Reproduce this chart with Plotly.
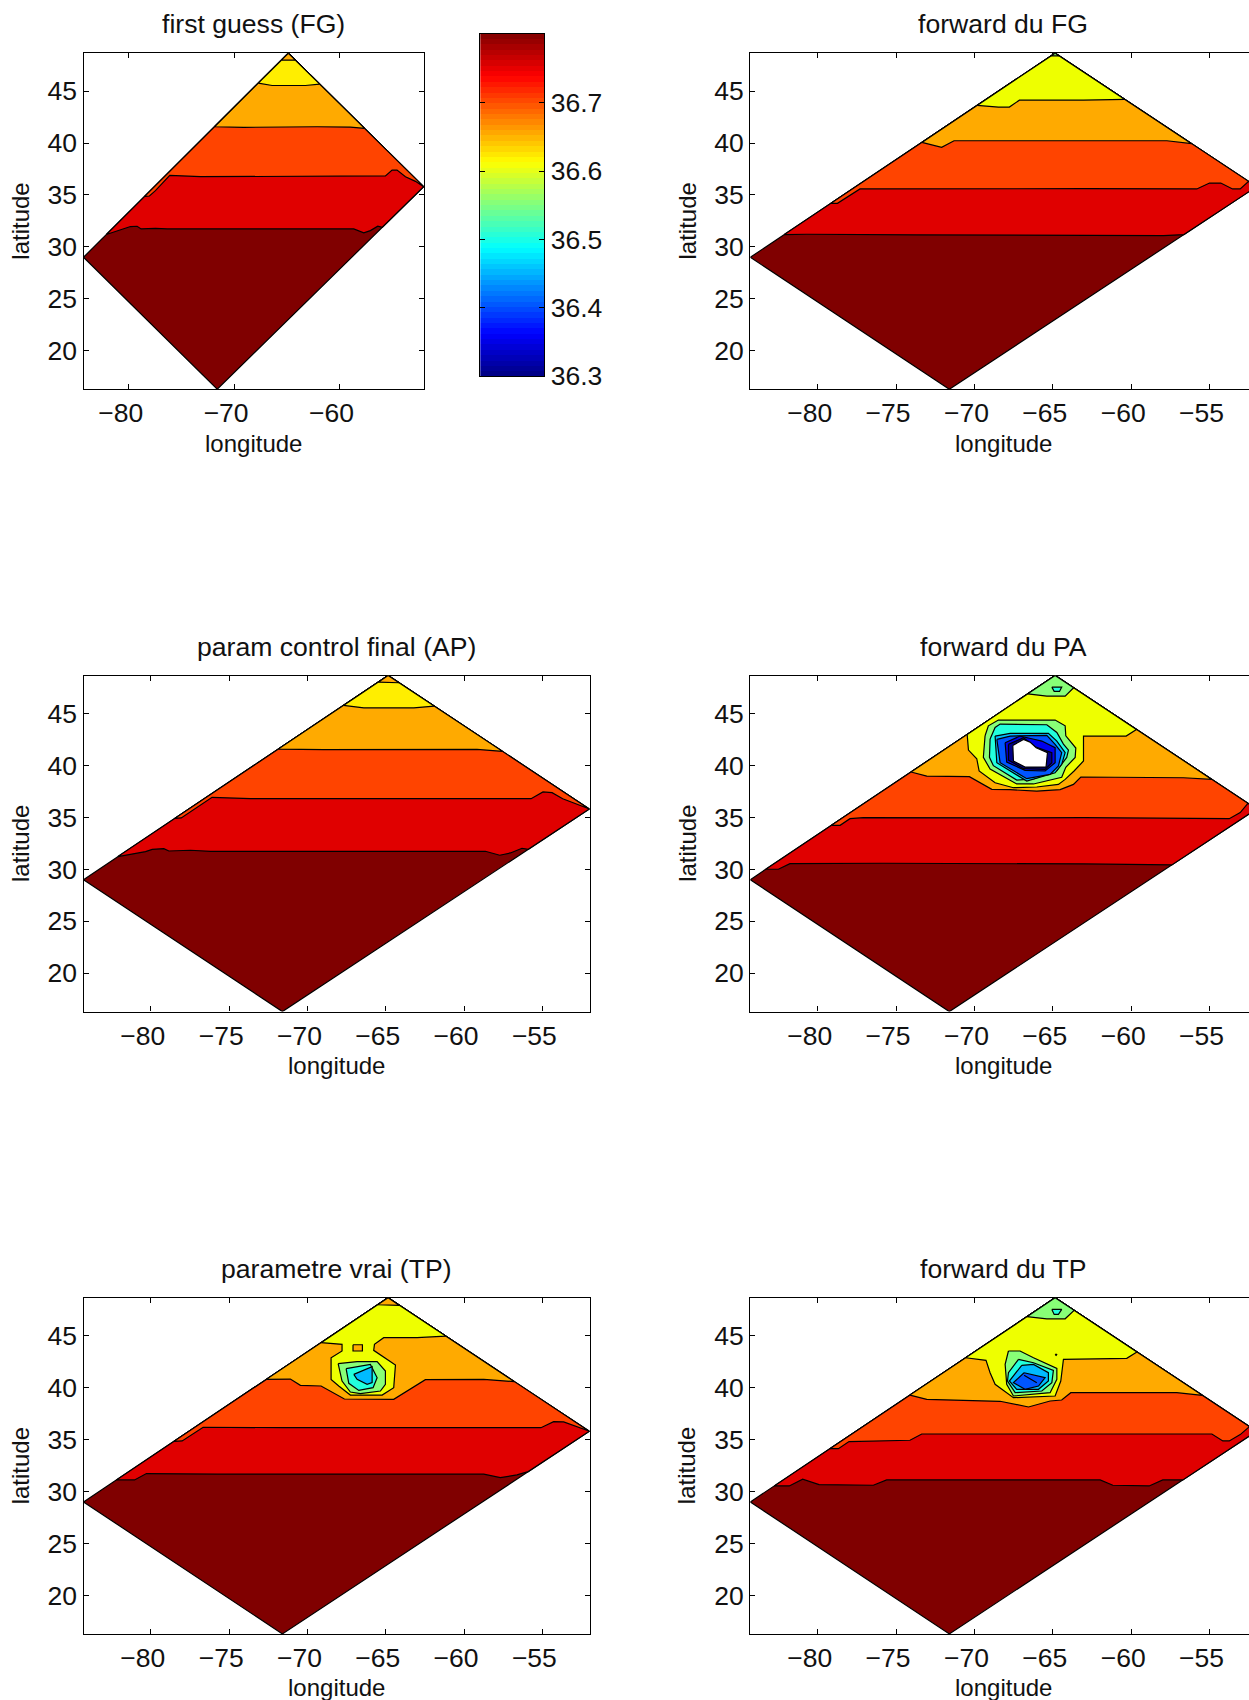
import numpy as np
import plotly.graph_objects as go

W, H = 1249, 1700

# ---- bounds of the model domain (rotated rectangle) ----
CORNER_LON = [-84.3, -71.6, -52.0, -64.85]
CORNER_LAT = [29.0, 16.3, 35.8, 48.65]

# ---- contour level colours ----
C_RED = "#e00000"; C_ORED = "#ff4400"; C_ORANGE = "#ffaa00"
C_YEL = "#eeff00"; C_YEL2 = "#ffee00"; C_GREEN = "#88ff77"; C_CYAN = "#22ffdd"
C_SKY = "#00bbff"; C_BLUE = "#0055ff"; C_BLUE2 = "#0000ee"; C_NAVY = "#000088"
C_BASE = "#800000"

# ---- first guess (FG) ----
FG1_LON = [-82.06, -81.42, -80.16, -79.84, -79.21, -78.83, -77.47, -76.36, -68.45, -58.64, -57.69, -57.06, -56.36, -55.79]
FG1_LAT = [31.19, 31.41, 31.79, 31.96, 31.99, 31.73, 31.79, 31.73, 31.73, 31.73, 31.35, 31.57, 31.99, 31.89]
FG2_LON = [-78.42, -78.04, -77.47, -76.11, -73.2, -65.29, -57.37, -55.63, -55.0, -54.53, -53.73, -52.78, -51.99]
FG2_LAT = [34.87, 34.90, 35.42, 36.89, 36.76, 36.76, 36.79, 36.83, 37.40, 37.40, 36.76, 36.31, 35.8]
FG3_LON = [-71.86, -69.08, -62.12, -58.96, -57.61]
FG3_LAT = [41.57, 41.51, 41.57, 41.54, 41.41]
FG4_LON = [-67.5, -66.39, -63.23, -61.87]
FG4_LAT = [45.77, 45.54, 45.54, 45.67]
FG5_LON = [-65.5, -64.2]
FG5_LAT = [47.98, 47.98]

# ---- forward du FG ----
FF1_LON = [-82.09, -80.70, -73.68, -63.04, -57.94, -56.55]
FF1_LAT = [31.19, 31.22, 31.15, 31.15, 31.09, 31.19]
FF2_LON = [-79.11, -78.74, -77.30, -71.55, -63.04, -55.81, -55.0, -54.28, -53.53, -53.04, -52.47]
FF2_LAT = [34.2, 34.2, 35.58, 35.61, 35.61, 35.58, 36.15, 36.15, 35.58, 35.58, 36.31]
FF3_LON = [-73.26, -72.09, -71.30, -65.17, -57.72, -56.13]
FF3_LAT = [40.06, 39.58, 40.22, 40.19, 40.22, 39.94]
FF4_LON = [-69.64, -68.47, -67.77, -67.13, -63.04, -60.38]
FF4_LAT = [43.62, 43.46, 43.46, 44.13, 44.13, 44.2]
FF5_LON = [-65.1, -64.6]
FF5_LAT = [48.4, 48.4]

# ---- param control final (AP) ----
AP1_LON = [-82.21, -80.34, -79.91, -79.17, -78.85, -77.47, -76.19, -67.26, -58.64, -57.72, -57.04, -56.30, -55.87]
AP1_LAT = [31.22, 31.70, 31.92, 31.99, 31.76, 31.83, 31.73, 31.73, 31.73, 31.35, 31.57, 32.02, 31.92]
AP2_LON = [-78.36, -78.06, -76.09, -73.64, -63.0, -55.72, -54.96, -54.38, -53.7, -52.89, -51.98]
AP2_LAT = [34.9, 34.94, 36.92, 36.79, 36.79, 36.79, 37.44, 37.37, 36.79, 36.31, 35.83]
AP3_LON = [-71.79, -68.96, -59.17, -57.57]
AP3_LAT = [41.57, 41.51, 41.54, 41.35]
AP4_LON = [-67.57, -66.40, -63.21, -61.83]
AP4_LAT = [45.77, 45.54, 45.54, 45.71]
AP5_LON = [-65.5, -64.3]
AP5_LAT = [48.01, 47.95]

# ---- forward du PA ----
PA1_LON = [-83.36, -82.51, -81.77, -75.81, -63.04, -57.34]
PA1_LAT = [30.0, 30.0, 30.54, 30.58, 30.51, 30.42]
PA2_LON = [-79.11, -78.57, -77.94, -77.09, -67.3, -63.04, -53.74, -53.04, -52.47]
PA2_LAT = [34.23, 34.23, 34.87, 34.97, 34.94, 34.97, 34.87, 35.45, 36.35]
PA3_LON = [-73.89, -73.04, -70.32, -68.89, -67.72, -66.02, -64.53, -63.68, -63.21, -56.66, -54.85]
PA3_LAT = [39.36, 38.97, 38.91, 37.69, 37.66, 37.53, 37.66, 38.17, 38.88, 38.81, 38.65]
PA4_LON = [-70.38, -70.38, -69.85, -69.70, -68.68, -67.51, -66.02, -64.64, -64.21, -63.64, -63.04, -63.04, -60.32, -59.68]
PA4_LAT = [42.98, 41.47, 40.64, 39.46, 38.33, 37.85, 37.92, 38.17, 38.65, 39.46, 40.42, 42.82, 42.82, 43.46]
PA_TOP_LON = [-66.45, -65.38, -64.21, -63.79]
PA_TOP_LAT = [46.89, 46.67, 46.67, 47.47]
PA_TIP_LON = [-65.06, -64.43, -64.57, -64.91]
PA_TIP_LAT = [47.53, 47.53, 47.12, 47.12]
PA_G_LON = [-69.32, -69.11, -68.47, -64.85, -64.21, -64.17, -63.53, -63.57, -64.17, -64.43, -66.23, -67.30, -69.0, -69.43]
PA_G_LAT = [42.85, 43.81, 44.36, 44.36, 43.81, 42.85, 41.67, 40.77, 39.81, 38.85, 38.21, 38.21, 39.65, 40.77]
PA_C_LON = [-69.0, -68.68, -68.36, -65.38, -64.74, -64.32, -64.0, -64.11, -64.74, -66.23, -67.30, -68.79, -69.04]
PA_C_LAT = [42.53, 43.65, 43.97, 43.91, 43.17, 42.05, 41.47, 40.77, 39.49, 38.69, 38.59, 39.97, 40.77]
PA_S_LON = [-68.68, -67.72, -65.28, -64.74, -64.21, -64.43, -64.85, -66.66, -68.57]
PA_S_LAT = [42.82, 43.08, 43.08, 42.34, 41.22, 40.10, 39.29, 38.49, 40.26]
PA_B_LON = [-68.57, -67.72, -65.38, -64.85, -64.43, -64.64, -65.17, -66.66, -68.36]
PA_B_LAT = [42.5, 42.82, 42.88, 42.02, 41.22, 39.94, 39.13, 38.72, 40.26]
PA_B2_LON = [-68.04, -67.09, -66.34, -65.70, -64.85, -64.85, -65.49, -66.77, -67.94]
PA_B2_LAT = [42.18, 42.82, 42.56, 42.34, 41.70, 40.26, 39.46, 39.52, 40.32]
PA_N_LON = [-67.83, -66.87, -66.13, -65.28, -65.06, -65.06, -65.49, -66.87, -67.83]
PA_N_LAT = [42.02, 42.66, 41.79, 41.38, 41.22, 40.26, 39.62, 39.68, 40.51]
PA_HOLE_LON = [-67.55, -66.87, -66.45, -66.06, -65.34, -65.43, -66.77, -67.51]
PA_HOLE_LAT = [41.92, 42.5, 42.24, 41.70, 41.22, 39.84, 39.84, 40.42]

# ---- parametre vrai (TP) ----
TP1_LON = [-82.21, -81.04, -80.28, -75.77, -58.74, -57.68, -56.62, -55.77]
TP1_LAT = [31.12, 31.12, 31.73, 31.67, 31.67, 31.35, 31.6, 31.92]
TP2_LON = [-78.36, -78.0, -76.66, -71.51, -55.09, -54.28, -53.64, -52.79, -51.98]
TP2_LAT = [34.84, 34.87, 36.19, 36.15, 36.15, 36.73, 36.70, 36.28, 35.83]
TP3_LON = [-72.51, -71.09, -70.45, -69.13, -67.64, -64.49, -62.47, -58.74, -56.79]
TP3_LAT = [40.8, 40.83, 40.22, 40.16, 38.91, 38.88, 40.77, 40.8, 40.58]
TP4_LON = [-68.96, -67.79, -67.79, -68.49, -68.49, -68.0, -67.26, -65.23, -64.49, -64.38, -65.77, -65.72, -65.13, -63.0, -61.09]
TP4_LAT = [44.33, 44.17, 43.53, 42.88, 40.80, 40.16, 39.29, 39.29, 40.0, 42.18, 43.59, 44.17, 44.81, 44.81, 44.97]
TP5_LON = [-65.5, -64.4]
TP5_LAT = [47.98, 47.92]
TP_BOX_LON = [-67.09, -66.49, -66.49, -67.09]
TP_BOX_LAT = [44.13, 44.13, 43.53, 43.53]
TP_G_LON = [-68.04, -66.83, -65.55, -65.02, -65.02, -65.34, -66.62, -67.26, -67.79]
TP_G_LAT = [42.31, 42.5, 42.5, 41.6, 40.32, 39.68, 39.42, 39.58, 40.64]
TP_C_LON = [-67.53, -65.98, -65.55, -65.81, -66.72, -67.36]
TP_C_LAT = [41.83, 42.24, 40.96, 40.0, 39.74, 40.42]
TP_S_LON = [-67.04, -65.87, -65.87, -66.19, -66.83]
TP_S_LAT = [41.28, 42.02, 40.48, 40.32, 40.8]

# ---- forward du TP ----
FT1_LON = [-82.66, -81.81, -80.96, -79.91, -76.45, -75.6, -61.98, -61.17, -58.85, -57.98, -56.6]
FT1_LAT = [30.54, 30.54, 31.19, 30.67, 30.61, 31.12, 31.12, 30.61, 30.54, 31.12, 31.12]
FT2_LON = [-79.11, -78.68, -78.0, -74.11, -73.36, -63.04, -54.85, -54.15, -53.74, -53.04, -52.47]
FT2_LAT = [34.13, 34.13, 34.81, 34.94, 35.54, 35.54, 35.54, 34.87, 34.87, 35.48, 36.25]
FT3_LON = [-73.96, -73.04, -68.36, -66.55, -65.17, -64.43, -63.85, -57.09, -55.49]
FT3_LAT = [39.29, 38.88, 38.69, 38.14, 38.72, 38.81, 39.52, 39.52, 39.26]
FT4_LON = [-70.38, -69.26, -69.0, -68.68, -67.51, -64.85, -64.49, -64.32, -60.28, -59.64]
FT4_LAT = [42.88, 42.63, 41.44, 40.32, 39.04, 39.2, 40.64, 42.72, 42.82, 43.43]
FT_TOP_LON = [-66.49, -65.38, -64.21, -63.79]
FT_TOP_LAT = [46.83, 46.63, 46.63, 47.44]
FT_TIP_LON = [-65.06, -64.43, -64.64, -64.91]
FT_TIP_LAT = [47.53, 47.53, 47.05, 47.05]
FT_G_LON = [-67.83, -67.09, -66.23, -64.74, -64.74, -65.17, -67.51, -67.94, -68.04]
FT_G_LAT = [43.53, 43.53, 42.88, 41.86, 40.80, 39.52, 39.2, 40.32, 42.24]
FT_C_LON = [-67.19, -66.23, -64.96, -65.06, -65.7, -67.4, -67.89, -67.83]
FT_C_LAT = [42.72, 42.4, 41.67, 40.48, 39.68, 39.52, 40.64, 41.44]
FT_S_LON = [-66.98, -66.23, -65.28, -65.28, -65.91, -67.3, -67.77]
FT_S_LAT = [42.15, 42.24, 41.44, 40.64, 39.84, 39.84, 40.64]
FT_B_LON = [-66.83, -65.49, -65.91, -66.77, -67.51]
FT_B_LAT = [41.44, 40.96, 40.16, 39.84, 40.48]
FT_STICK_LON = [-66.83, -66.02]
FT_STICK_LAT = [41.19, 40.48]
FT_DOT_LON = [-64.85, -64.73, -64.79]
FT_DOT_LAT = [43.2, 43.2, 43.1]

# ---- labels ----
TITLES = ["first guess (FG)", "forward du FG", "param control final (AP)",
          "forward du PA", "parametre vrai (TP)", "forward du TP"]
LAT_TICKS = [20, 25, 30, 35, 40, 45]
CB_TICKS = [36.3, 36.4, 36.5, 36.6, 36.7]
CB_MIN, CB_MAX = 36.3, 36.801
JET = [[0, "#000080"], [0.125, "#0000ff"], [0.375, "#00ffff"],
       [0.625, "#ffff00"], [0.875, "#ff0000"], [1, "#800000"]]

FONT = "Liberation Sans"
TEXT = "#111111"
LON_MIN, LON_MAX = -84.3, -51.97
LON_MAX_CUT = -52.48   # the right-hand column runs off the page edge in the original
LAT_MIN, LAT_MAX = 16.3, 48.65

# panel boxes in the page: left, right, top, bottom
PANELS = [(83.5, 424.0, 53.2, 389.2), (750.3, 1249, 53.2, 389.2),
          (83.5, 589.8, 675.5, 1011.6), (750.3, 1249, 675.5, 1011.6),
          (83.5, 589.8, 1297.8, 1633.9), (750.3, 1249, 1297.8, 1633.9)]
CB_BOX = (480.3, 544.3, 33.6, 376.2)
CENTERS = [253.7, 1003.4, 336.6, 1003.4, 336.6, 1003.4]


def fy(py):
    return 1 - py / H


def left_edge_lon(lat):
    return CORNER_LON[0] + (lat - CORNER_LAT[0]) * (CORNER_LON[3] - CORNER_LON[0]) / (CORNER_LAT[3] - CORNER_LAT[0])


def right_edge_lon(lat):
    if lat >= CORNER_LAT[2]:
        return CORNER_LON[2] + (lat - CORNER_LAT[2]) * (CORNER_LON[3] - CORNER_LON[2]) / (CORNER_LAT[3] - CORNER_LAT[2])
    return CORNER_LON[1] + (lat - CORNER_LAT[1]) * (CORNER_LON[2] - CORNER_LON[1]) / (CORNER_LAT[2] - CORNER_LAT[1])


def band(lon, lat):
    """Area above an isoline that runs from the left edge to the right edge."""
    xs = [left_edge_lon(lat[0])] + list(lon[1:-1]) + [right_edge_lon(lat[-1])]
    ys = list(lat)
    if ys[-1] < CORNER_LAT[2]:
        xs.append(CORNER_LON[2]); ys.append(CORNER_LAT[2])
    xs.append(CORNER_LON[3]); ys.append(CORNER_LAT[3])
    return xs + xs[:1], ys + ys[:1]


def closed(lon, lat):
    return list(lon) + [lon[0]], list(lat) + [lat[0]]


def apex_patch(lon, lat):
    """Patch in the top corner, bounded by an open isoline."""
    xs = [left_edge_lon(lat[0])] + list(lon[1:-1]) + [right_edge_lon(lat[-1])] + [CORNER_LON[3]]
    ys = list(lat) + [CORNER_LAT[3]]
    return xs + xs[:1], ys + ys[:1]


base = closed(CORNER_LON, CORNER_LAT)
CONTENT = [
    [(base, C_BASE), (band(FG1_LON, FG1_LAT), C_RED), (band(FG2_LON, FG2_LAT), C_ORED),
     (band(FG3_LON, FG3_LAT), C_ORANGE), (band(FG4_LON, FG4_LAT), C_YEL2),
     (apex_patch(FG5_LON, FG5_LAT), C_ORANGE)],
    [(base, C_BASE), (band(FF1_LON, FF1_LAT), C_RED), (band(FF2_LON, FF2_LAT), C_ORED),
     (band(FF3_LON, FF3_LAT), C_ORANGE), (band(FF4_LON, FF4_LAT), C_YEL),
     (apex_patch(FF5_LON, FF5_LAT), C_GREEN)],
    [(base, C_BASE), (band(AP1_LON, AP1_LAT), C_RED), (band(AP2_LON, AP2_LAT), C_ORED),
     (band(AP3_LON, AP3_LAT), C_ORANGE), (band(AP4_LON, AP4_LAT), C_YEL2),
     (apex_patch(AP5_LON, AP5_LAT), C_ORANGE)],
    [(base, C_BASE), (band(PA1_LON, PA1_LAT), C_RED), (band(PA2_LON, PA2_LAT), C_ORED),
     (band(PA3_LON, PA3_LAT), C_ORANGE), (band(PA4_LON, PA4_LAT), C_YEL),
     (apex_patch(PA_TOP_LON, PA_TOP_LAT), C_GREEN), (closed(PA_TIP_LON, PA_TIP_LAT), C_CYAN),
     (closed(PA_G_LON, PA_G_LAT), C_GREEN), (closed(PA_C_LON, PA_C_LAT), C_CYAN),
     (closed(PA_S_LON, PA_S_LAT), C_SKY), (closed(PA_B_LON, PA_B_LAT), C_BLUE),
     (closed(PA_B2_LON, PA_B2_LAT), C_BLUE2), (closed(PA_N_LON, PA_N_LAT), C_NAVY),
     (closed(PA_HOLE_LON, PA_HOLE_LAT), "#ffffff")],
    [(base, C_BASE), (band(TP1_LON, TP1_LAT), C_RED), (band(TP2_LON, TP2_LAT), C_ORED),
     (band(TP3_LON, TP3_LAT), C_ORANGE), (band(TP4_LON, TP4_LAT), C_YEL),
     (apex_patch(TP5_LON, TP5_LAT), C_ORANGE), (closed(TP_BOX_LON, TP_BOX_LAT), C_ORANGE),
     (closed(TP_G_LON, TP_G_LAT), C_GREEN), (closed(TP_C_LON, TP_C_LAT), C_CYAN),
     (closed(TP_S_LON, TP_S_LAT), C_SKY)],
    [(base, C_BASE), (band(FT1_LON, FT1_LAT), C_RED), (band(FT2_LON, FT2_LAT), C_ORED),
     (band(FT3_LON, FT3_LAT), C_ORANGE), (band(FT4_LON, FT4_LAT), C_YEL),
     (apex_patch(FT_TOP_LON, FT_TOP_LAT), C_GREEN), (closed(FT_TIP_LON, FT_TIP_LAT), C_CYAN),
     (closed(FT_G_LON, FT_G_LAT), C_GREEN), (closed(FT_C_LON, FT_C_LAT), C_CYAN),
     (closed(FT_S_LON, FT_S_LAT), C_SKY), (closed(FT_B_LON, FT_B_LAT), C_BLUE),
     (closed(FT_STICK_LON, FT_STICK_LAT), C_BLUE2), (closed(FT_DOT_LON, FT_DOT_LAT), "#000000")],
]

fig = go.Figure()
layout = {}
annotations = []


def axis_common():
    return dict(showgrid=False, zeroline=False, showline=True, linecolor="black", linewidth=1.3,
                mirror="ticks", ticks="inside", ticklen=5, tickwidth=1, tickcolor="black",
                layer="below traces", tickfont=dict(family=FONT, size=26.5, color=TEXT))


for i, ((l, r, t, b), title, polys) in enumerate(zip(PANELS, TITLES, CONTENT)):
    n = i + 1
    cut = i % 2 == 1
    for (xs, ys), colour in polys:
        fig.add_trace(go.Scatter(x=xs, y=ys, mode="lines", fill="toself", fillcolor=colour,
                                 line=dict(color="black", width=1.2), hoverinfo="skip",
                                 showlegend=False, xaxis=f"x{n}", yaxis=f"y{n}"))
    layout[f"xaxis{n}"] = dict(axis_common(), domain=[l / W, r / W],
                               range=[LON_MIN, LON_MAX_CUT if cut else LON_MAX],
                               anchor=f"y{n}", tick0=-80, dtick=10 if i == 0 else 5,
                               ticklabelshift=-8)
    yax = dict(axis_common(), domain=[fy(b), fy(t)], range=[LAT_MIN, LAT_MAX],
               anchor=f"x{n}", tickvals=LAT_TICKS)
    if cut:
        yax["mirror"] = False
    layout[f"yaxis{n}"] = yax
    cx = CENTERS[i]
    annotations.append(dict(text=title, x=cx / W, y=fy(t - 29), xref="paper", yref="paper",
                            xanchor="center", yanchor="middle", showarrow=False,
                            font=dict(family=FONT, size=26.6, color=TEXT)))
    annotations.append(dict(text="longitude", x=cx / W, y=fy(b + 54), xref="paper", yref="paper",
                            xanchor="center", yanchor="middle", showarrow=False,
                            font=dict(family=FONT, size=24, color=TEXT)))
    annotations.append(dict(text="latitude", x=(l - 63) / W, y=fy((t + b) / 2), xref="paper", yref="paper",
                            xanchor="center", yanchor="middle", showarrow=False, textangle=-90,
                            font=dict(family=FONT, size=24, color=TEXT)))

# colour bar: 64 steps of the same jet scale, on its own axes
cb_y = np.linspace(CB_MIN, CB_MAX, 65)
cb_mid = (cb_y[:-1] + cb_y[1:]) / 2
fig.add_trace(go.Heatmap(x=[0, 1], y=cb_mid, z=[[v, v] for v in cb_mid], colorscale=JET,
                         zmin=CB_MIN, zmax=CB_MAX, showscale=False, hoverinfo="skip",
                         xaxis="x7", yaxis="y7"))
l, r, t, b = CB_BOX
layout["xaxis7"] = dict(showgrid=False, zeroline=False, showline=True, linecolor="black", linewidth=1.3,
                        mirror=True, showticklabels=False, ticks="", domain=[l / W, r / W],
                        range=[0, 1], anchor="y7")
layout["yaxis7"] = dict(axis_common(), domain=[fy(b), fy(t)], range=[CB_MIN, CB_MAX], anchor="x7",
                        side="right", tickvals=CB_TICKS, ticktext=[f"{v:.1f}" for v in CB_TICKS],
                        layer="above traces")

fig.update_layout(width=W, height=H, margin=dict(l=0, r=0, t=0, b=0, autoexpand=False), paper_bgcolor="white",
                  plot_bgcolor="white", showlegend=False, annotations=annotations, **layout)

fig.write_html("out.html", config={"displayModeBar": False, "responsive": False},
               post_script="document.body.style.margin='0';document.body.style.overflow='hidden';")
